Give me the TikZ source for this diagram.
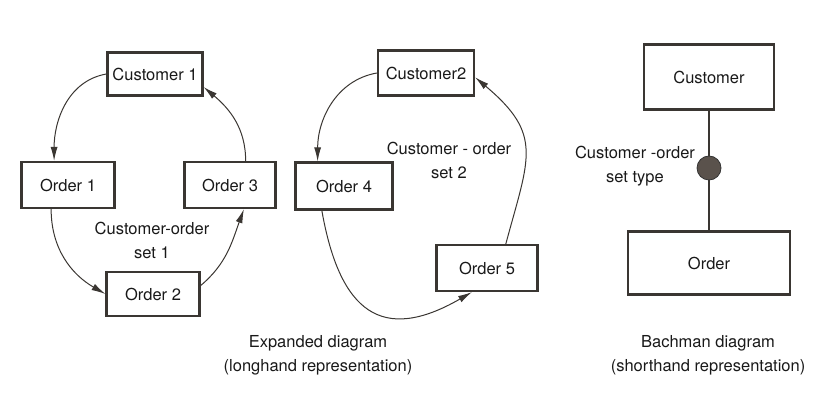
\documentclass[tikz,border=0pt]{standalone}
\usepackage{fontspec}
\setmainfont{TeX Gyre Heros}
\usetikzlibrary{arrows.meta}
\definecolor{ink}{HTML}{3A3632}
\definecolor{dotfill}{HTML}{5A524C}
\begin{document}
\begin{tikzpicture}[
  x=1pt, y=1pt,
  font=\fontsize{16.5}{24}\selectfont,
  record/.style={rectangle, draw=ink, line width=2.2pt, align=center, text=black!90},
  link/.style={draw=ink, line width=1pt, -{Latex[length=14pt,width=7pt]}},
  label/.style={align=center, text=black!90}
]
\useasboundingbox (0,0) rectangle (826,407);

% Left column: expanded diagram, set 1
\node[record, minimum width=95, minimum height=43] (c1) at (155,333) {Customer 1};
\node[record, minimum width=93, minimum height=46] (o1) at (68,222) {Order 1};
\node[record, minimum width=91, minimum height=46] (o3) at (230,222) {Order 3};
\node[record, minimum width=93, minimum height=44] (o2) at (153,113) {Order 2};
\node[label] (set1) at (152,167) {Customer-order\\set 1};

\draw[link] (c1.west) to[out=190, in=90] (o1.120);
\draw[link] (o1.235) to[out=-90, in=150] (o2.west);
\draw[link] (o2.10) to[out=40, in=-110] (o3.-60);
\draw[link] (o3.57) to[out=90, in=-40] (c1.-15);

% Middle column: expanded diagram, set 2
\node[record, minimum width=96, minimum height=45] (c2) at (426,334) {Customer2};
\node[record, minimum width=97, minimum height=47] (o4) at (344,221) {Order 4};
\node[record, minimum width=101, minimum height=46] (o5) at (487,139) {Order 5};
\node[label] (set2) at (449,247) {Customer - order\\set 2};

\draw[link] (c2.west) to[out=190, in=90] (o4.137);
\draw[link] (o4.228) to[out=-80, in=210, looseness=1.55] (o5.238);
\draw[link] (o5.52) to[out=75, in=-40, looseness=1.35] (c2.-5);

\node[label] (expanded) at (318,52) {Expanded diagram\\(longhand representation)};

% Right column: Bachman diagram
\node[record, minimum width=130, minimum height=65] (cust) at (709,330) {Customer};
\node[record, minimum width=162, minimum height=63] (ord) at (709,144) {Order};
\node[circle, draw=black!80, fill=dotfill, line width=0.8pt, minimum size=24, inner sep=0pt] (dot) at (709,239) {};
\node[label] (settype) at (635,241) {Customer -order\\set type};

\draw[draw=ink, line width=1.4pt] (cust.south) -- (dot.north);
\draw[draw=ink, line width=1.4pt] (dot.south) -- (ord.north);

\node[label] (bachman) at (708,52) {Bachman diagram\\(shorthand representation)};
\end{tikzpicture}
\end{document}
